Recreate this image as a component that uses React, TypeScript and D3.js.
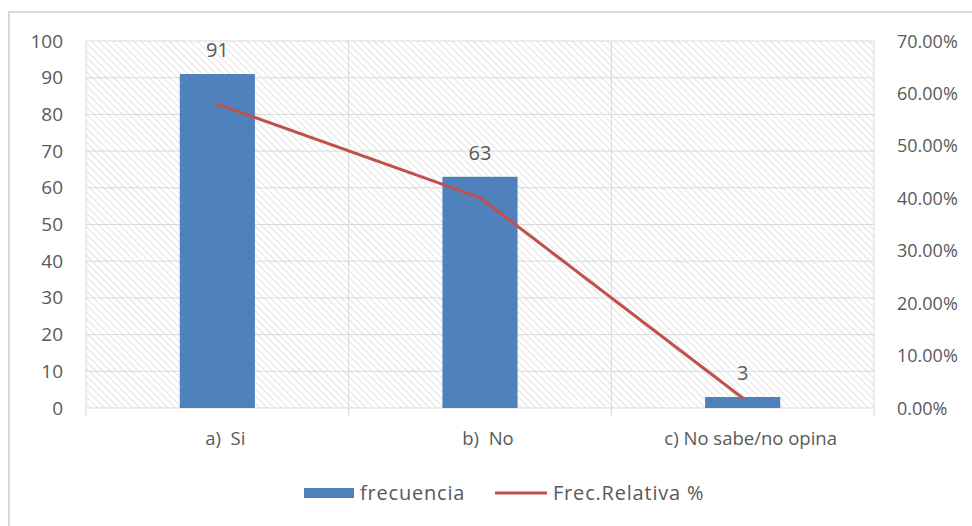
import React from "react";
import * as d3 from "d3";

const categories = ["a)  Si", "b)  No", "c) No sabe/no opina"];
const frecuencia = [91, 63, 3];
const frecRelativa = [0.5796, 0.4013, 0.0191];
const leftTicks = [0, 10, 20, 30, 40, 50, 60, 70, 80, 90, 100];
const rightTicks = [0, 0.1, 0.2, 0.3, 0.4, 0.5, 0.6, 0.7];

const W = 972;
const H = 526;
const M = { left: 86, right: 874, top: 41, bottom: 408 };
const FONT = "'Open Sans', 'Noto Sans', sans-serif";
const TXT = "#595959";
const BLUE = "#4F81BD";
const RED = "#C0504D";
const GRID = "#d9d9d9";

export default function App() {
  const x = d3.scaleBand<string>().domain(categories).range([M.left, M.right]).paddingInner(0).paddingOuter(0);
  const yL = d3.scaleLinear().domain([0, 100]).range([M.bottom, M.top]);
  const yR = d3.scaleLinear().domain([0, 0.7]).range([M.bottom, M.top]);
  const barW = x.bandwidth() * 0.286;
  const cx = (c: string) => (x(c) as number) + x.bandwidth() / 2;

  const line = d3
    .line<number>()
    .x((_, i) => cx(categories[i]))
    .y((d) => yR(d));

  const bounds = [M.left, ...categories.map((c) => (x(c) as number) + x.bandwidth())];

  return (
    <svg width={W} height={H} style={{ position: "absolute", left: 0, top: 0 }} fontFamily={FONT}>
      <defs>
        <pattern id="hatch" width="5" height="5" patternUnits="userSpaceOnUse" patternTransform="rotate(-45)">
          <line x1="0" y1="0" x2="0" y2="5" stroke="#d4d4d4" strokeWidth="1.3" />
        </pattern>
      </defs>
      <rect x={0} y={0} width={W} height={H} fill="#fff" />
      <rect x={9} y={12} width={W + 20} height={H + 20} fill="#fff" stroke="#d9d9d9" strokeWidth={2} />

      <rect x={M.left} y={M.top} width={M.right - M.left} height={M.bottom - M.top} fill="url(#hatch)" />

      {leftTicks.map((t) => (
        <line key={"g" + t} x1={M.left} x2={M.right} y1={yL(t)} y2={yL(t)} stroke={GRID} strokeWidth={1} />
      ))}
      {bounds.map((b, i) => (
        <line key={"v" + i} x1={b} x2={b} y1={M.top} y2={M.bottom + 8} stroke={GRID} strokeWidth={1} />
      ))}

      {categories.map((c, i) => (
        <rect key={c} x={cx(c) - barW / 2} y={yL(frecuencia[i])} width={barW} height={yL(0) - yL(frecuencia[i])} fill={BLUE} />
      ))}

      <path d={line(frecRelativa) || ""} fill="none" stroke={RED} strokeWidth={3} strokeLinejoin="round" strokeLinecap="round" />

      {categories.map((c, i) => (
        <text key={"l" + c} x={cx(c)} y={yL(frecuencia[i]) - 17} textAnchor="middle" fontSize={20} fill={TXT}>
          {frecuencia[i]}
        </text>
      ))}

      {leftTicks.map((t) => (
        <text key={"lt" + t} x={63} y={yL(t) + 6.5} textAnchor="end" fontSize={19} fill={TXT}>
          {t}
        </text>
      ))}
      {rightTicks.map((t) => (
        <text key={"rt" + t} x={897} y={yR(t) + 6.5} textAnchor="start" fontSize={18} fill={TXT}>
          {(t * 100).toFixed(2) + "%"}
        </text>
      ))}
      {categories.map((c) => (
        <text key={"xt" + c} x={cx(c) + 8} y={445} textAnchor="middle" fontSize={18.5} fill={TXT} style={{ whiteSpace: "pre" }}>
          {c}
        </text>
      ))}

      <rect x={304} y={488} width={50} height={10} fill={BLUE} />
      <text x={360} y={500} fontSize={20} letterSpacing={0.8} fill={TXT}>frecuencia</text>
      <line x1={495} x2={547} y1={493} y2={493} stroke={RED} strokeWidth={3} />
      <text x={553} y={500} fontSize={20} letterSpacing={0.8} fill={TXT}>Frec.Relativa %</text>
    </svg>
  );
}
